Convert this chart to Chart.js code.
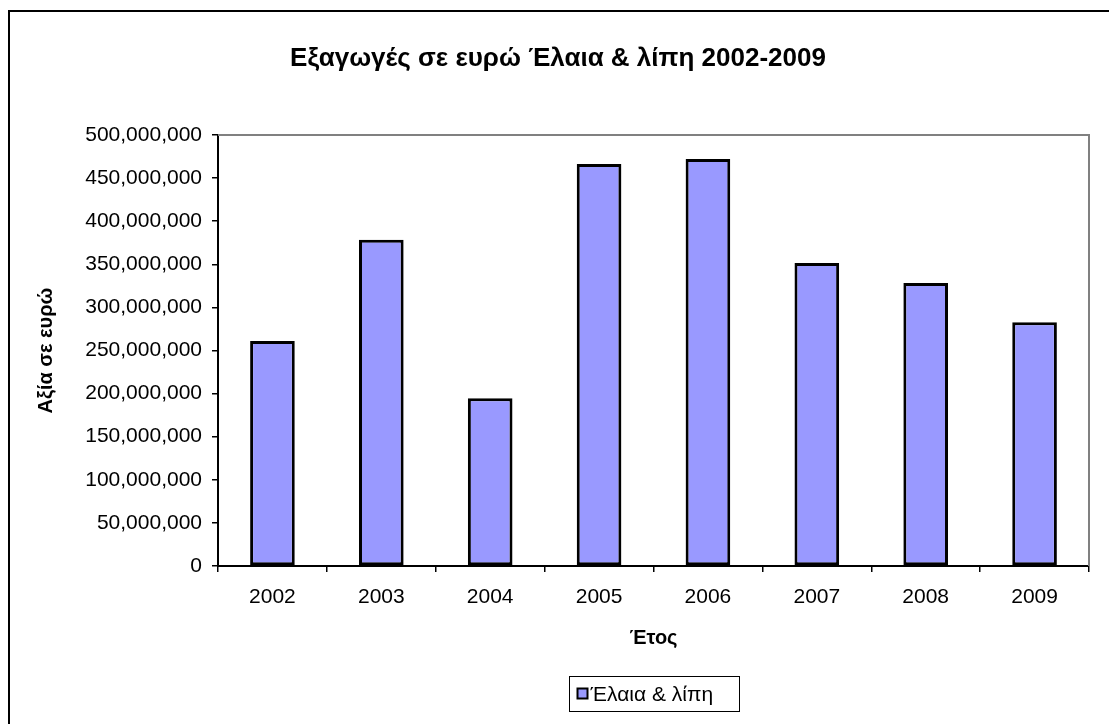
<!DOCTYPE html>
<html>
<head>
<meta charset="utf-8">
<script src="https://cdn.jsdelivr.net/npm/chart.js@4"></script>
<style>
html,body{margin:0;padding:0;background:#fff;}
#wrap{width:1109px;height:724px;position:relative;}
</style>
</head>
<body>
<div id="wrap"><canvas id="c" width="1109" height="724"></canvas></div>
<script>
const chartTitle = 'Εξαγωγές σε ευρώ Έλαια & λίπη 2002-2009';
const categories = ['2002','2003','2004','2005','2006','2007','2008','2009'];
const seriesName = 'Έλαια & λίπη';
const values = [261000000, 378500000, 194700000, 466300000, 472100000, 351400000, 328200000, 282900000];
const yTitle = 'Αξία σε ευρώ';
const xTitle = 'Έτος';
const yMin = 0, yMax = 500000000, yStep = 50000000;

const FONT = "'Liberation Sans', Arial, sans-serif";
const BAR_FILL = '#9999FF';

const decor = {
  id: 'decor',
  beforeDraw(chart) {
    const ctx = chart.ctx;
    ctx.save();
    ctx.fillStyle = '#fff';
    ctx.fillRect(0, 0, chart.width, chart.height);
    ctx.strokeStyle = '#000';
    ctx.lineWidth = 2;
    ctx.strokeRect(9, 11, 1200, 800);
    ctx.fillStyle = '#000';
    ctx.font = 'bold 26px ' + FONT;
    ctx.textAlign = 'center';
    ctx.textBaseline = 'middle';
    ctx.fillText(chartTitle, 558, 59);
    ctx.restore();
  },
  afterDraw(chart) {
    const ctx = chart.ctx;
    const a = chart.chartArea;
    ctx.save();
    ctx.strokeStyle = '#808080';
    ctx.lineWidth = 2;
    ctx.beginPath();
    ctx.moveTo(a.left, a.top);
    ctx.lineTo(a.right, a.top);
    ctx.lineTo(a.right, a.bottom);
    ctx.stroke();
    ctx.font = '21px ' + FONT;
    const label = chart.data.datasets[0].label;
    const tw = ctx.measureText(label).width;
    const boxW = Math.max(170, 22 + tw + 14);
    const cx = (a.left + a.right) / 2;
    const bx = Math.round(cx - boxW / 2) + 0.5, by = 676.5, bh = 35;
    ctx.fillStyle = '#fff';
    ctx.fillRect(bx, by, boxW, bh);
    ctx.strokeStyle = '#000';
    ctx.lineWidth = 1;
    ctx.strokeRect(bx, by, boxW, bh);
    ctx.fillStyle = BAR_FILL;
    ctx.fillRect(bx + 8, by + 12, 10, 10);
    ctx.lineWidth = 2;
    ctx.strokeRect(bx + 8, by + 12, 10, 10);
    ctx.fillStyle = '#000';
    ctx.textAlign = 'left';
    ctx.textBaseline = 'middle';
    ctx.fillText(label, bx + 21, by + bh / 2 + 1);
    ctx.restore();
  }
};

new Chart(document.getElementById('c'), {
  type: 'bar',
  data: {
    labels: categories,
    datasets: [{
      label: seriesName,
      data: values,
      backgroundColor: BAR_FILL,
      borderColor: '#000',
      borderWidth: 3,
      borderSkipped: false,
      barPercentage: 0.41,
      categoryPercentage: 1.0
    }]
  },
  options: {
    responsive: false,
    animation: false,
    layout: { padding: { top: 135, right: 20, left: 0, bottom: 0 } },
    plugins: {
      legend: { display: false },
      title: { display: false },
      tooltip: { enabled: false }
    },
    scales: {
      x: {
        grid: { display: true, drawOnChartArea: false, drawTicks: true, tickLength: 6, tickColor: '#000', offset: true, lineWidth: 1.5 },
        border: { display: true, color: '#000', width: 2 },
        ticks: { color: '#000', font: { family: FONT, size: 21 }, padding: 13, maxRotation: 0 },
        title: { display: true, text: xTitle, color: '#000', font: { family: FONT, size: 20, weight: 'bold' }, padding: { top: 0, bottom: 74 } },
        afterFit(scale) { scale.height = 158; }
      },
      y: {
        min: yMin, max: yMax,
        grid: { display: true, drawOnChartArea: false, drawTicks: true, tickLength: 6, tickColor: '#000', lineWidth: 1.5 },
        border: { display: true, color: '#000', width: 2 },
        ticks: { stepSize: yStep, color: '#000', font: { family: FONT, size: 21 }, padding: 10,
          callback: v => Number(v).toLocaleString('en-US') },
        title: { display: true, text: yTitle, color: '#000', font: { family: FONT, size: 20, weight: 'bold' }, padding: { top: 34, bottom: 0 } },
        afterFit(scale) { scale.width = 218; }
      }
    }
  },
  plugins: [decor]
});
</script>
</body>
</html>
